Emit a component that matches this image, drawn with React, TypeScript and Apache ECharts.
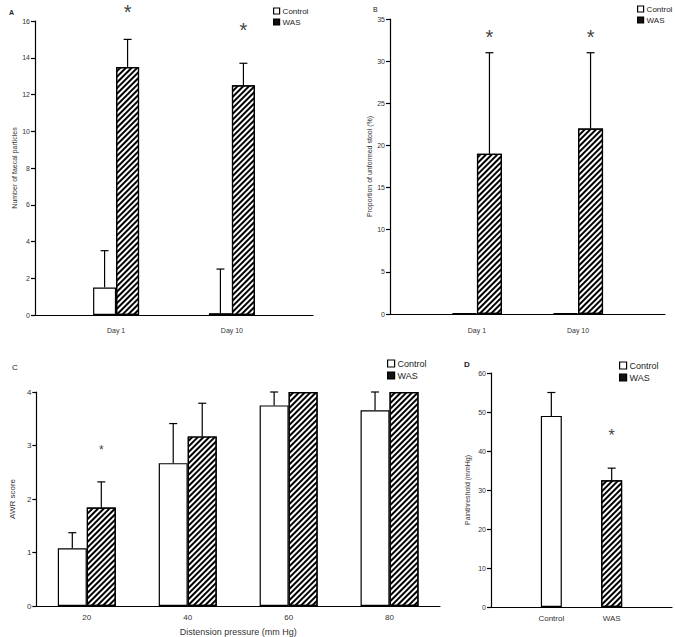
import React, { useEffect, useRef } from "react";
import * as echarts from "echarts";

const FONT = "Liberation Sans, Arial, sans-serif";

// Panel A: number of faecal particles
const dayLabels = ["Day 1", "Day 10"];
const aControl = [1.5, 0.1];
const aControlTop = [3.5, 2.5];
const aWAS = [13.5, 12.5];
const aWASTop = [15, 13.7];
const aStars = [16.5, 15.5];

// Panel B: proportion of unformed stool (%)
const bControl = [0.1, 0.1];
const bWAS = [19, 22];
const bWASTop = [31, 31];
const bStars = [32.9, 32.9];

// Panel C: AWR score
const cCats = ["20", "40", "60", "80"];
const cControl = [1.08, 2.67, 3.75, 3.66];
const cControlTop = [1.37, 3.41, 4.0, 4.0];
const cWAS = [1.84, 3.17, 4.0, 4.0];
const cWASTop = [2.32, 3.79, 4.0, 4.0];
const cStars = [2.92, null, null, null];

// Panel D: pain threshold (mmHg)
const dCats = ["Control", "WAS"];
const dValues = [49, 32.5];
const dTop = [55, 35.6];
const dStar = 44;

const hatch = {
  symbol: "rect",
  color: "#000",
  dashArrayX: [1, 0],
  dashArrayY: [1.7, 1.7],
  rotation: -Math.PI / 4,
  symbolSize: 1,
};

const controlStyle = { color: "#fff", borderColor: "#000", borderWidth: 1.2 };
const wasStyle = { color: "#fff", borderColor: "#000", borderWidth: 1.2, decal: hatch };

function errSeries(xi: number, data: any[], offset: number, cap: number) {
  return {
    type: "custom",
    xAxisIndex: xi,
    yAxisIndex: xi,
    silent: true,
    z: 4,
    data,
    renderItem: (params: any, api: any) => {
      const x = api.value(0);
      const y = api.value(1);
      const t = api.value(2);
      if (t === undefined || isNaN(t) || t <= y) return null;
      const p0 = api.coord([x, y]);
      const p1 = api.coord([x, t]);
      const cx = p0[0] + offset;
      const st = { stroke: "#000", lineWidth: 1.2 };
      return {
        type: "group",
        children: [
          { type: "line", shape: { x1: cx, y1: p0[1], x2: cx, y2: p1[1] }, style: st },
          { type: "line", shape: { x1: cx - cap, y1: p1[1], x2: cx + cap, y2: p1[1] }, style: st },
        ],
      };
    },
  };
}

function starSeries(xi: number, data: any[], offset: number, size: number) {
  return {
    type: "custom",
    xAxisIndex: xi,
    yAxisIndex: xi,
    silent: true,
    z: 5,
    data,
    renderItem: (params: any, api: any) => {
      const x = api.value(0);
      const y = api.value(1);
      if (y === undefined || isNaN(y)) return null;
      const p = api.coord([x, y]);
      return {
        type: "text",
        x: p[0] + offset,
        y: p[1],
        style: {
          text: "*",
          fontSize: size,
          fontFamily: FONT,
          fill: "#444",
          align: "center",
          verticalAlign: "middle",
        },
      };
    },
  };
}

function yAxis(gi: number, max: number, interval: number, name: string, nameGap: number, fs: number) {
  return {
    type: "value",
    gridIndex: gi,
    min: 0,
    max,
    interval,
    name,
    nameLocation: "middle",
    nameGap,
    nameTextStyle: { fontSize: fs, color: "#333", fontFamily: FONT },
    axisLine: { show: true, lineStyle: { color: "#000", width: 1.2 } },
    axisTick: { show: true, length: 4, lineStyle: { color: "#000", width: 1.2 } },
    axisLabel: { fontSize: fs, color: "#333", fontFamily: FONT, margin: 5 },
    splitLine: { show: false },
  };
}

function legend(left: number, top: number, fs: number, icon: number) {
  return {
    left,
    top,
    orient: "vertical",
    selectedMode: false,
    itemWidth: icon,
    itemHeight: icon,
    itemGap: 3,
    icon: "rect",
    textStyle: { fontSize: fs, color: "#222", fontFamily: FONT, padding: [0, 0, 0, -2] },
    data: [
      { name: "Control", itemStyle: { color: "#fff", borderColor: "#000", borderWidth: 1.2 } },
      { name: "WAS", itemStyle: { color: "#111", borderColor: "#000", borderWidth: 1.2, decal: "none" } },
    ],
  };
}

export default function App() {
  const ref = useRef<HTMLDivElement>(null);
  useEffect(() => {
    if (!ref.current) return;
    const chart = echarts.init(ref.current, undefined, { renderer: "svg" });
    const xs = [1, 2];
    const option: any = {
      animation: false,
      backgroundColor: "#fff",
      textStyle: { fontFamily: FONT },
      title: [
        { text: "A", left: 4, top: 4, textStyle: { fontSize: 7, fontWeight: "bold", color: "#222", fontFamily: FONT } },
        { text: "B", left: 368, top: 1, textStyle: { fontSize: 7, fontWeight: "normal", color: "#222", fontFamily: FONT } },
        { text: "C", left: 7, top: 358, textStyle: { fontSize: 8, fontWeight: "normal", color: "#222", fontFamily: FONT } },
        { text: "D", left: 459, top: 355, textStyle: { fontSize: 8, fontWeight: "bold", color: "#222", fontFamily: FONT } },
      ],
      legend: [legend(268, 2, 8, 6), legend(632, 0, 8, 6), legend(382, 354, 9, 7), legend(614, 356, 9, 7)],
      grid: [
        { left: 35, right: 362, top: 21, bottom: 322 },
        { left: 390, right: 10, top: 19, bottom: 323 },
        { left: 26, right: 235, top: 392, bottom: 31 },
        { left: 491, right: 2, top: 373, bottom: 30 },
      ],
      xAxis: [
        {
          type: "value", gridIndex: 0, min: 0.3, max: 2.7,
          axisLine: { show: true, onZero: false, lineStyle: { color: "#000", width: 1.2 } },
          axisTick: { show: false }, splitLine: { show: false },
          axisLabel: { customValues: xs, fontSize: 7, color: "#333", margin: 12, fontFamily: FONT, formatter: (v: number) => dayLabels[Math.round(v) - 1] ?? "" },
        },
        {
          type: "value", gridIndex: 1, min: 0.14, max: 2.86,
          axisLine: { show: true, onZero: false, lineStyle: { color: "#000", width: 1.2 } },
          axisTick: { show: false }, splitLine: { show: false },
          axisLabel: { customValues: xs, fontSize: 7, color: "#333", margin: 13, fontFamily: FONT, formatter: (v: number) => dayLabels[Math.round(v) - 1] ?? "" },
        },
        {
          type: "category", gridIndex: 2, data: cCats,
          name: "Distension pressure (mm Hg)", nameLocation: "middle", nameGap: 21,
          nameTextStyle: { fontSize: 9, color: "#333", fontFamily: FONT },
          axisLine: { show: true, lineStyle: { color: "#000", width: 1.2 } },
          axisTick: { show: false },
          axisLabel: { fontSize: 8, color: "#333", margin: 7, fontFamily: FONT },
        },
        {
          type: "value", gridIndex: 3, min: 0, max: 3, interval: 1,
          axisLine: { show: true, onZero: false, lineStyle: { color: "#000", width: 1.2 } },
          axisTick: { show: false }, splitLine: { show: false },
          axisLabel: { fontSize: 8, color: "#333", margin: 7, fontFamily: FONT, formatter: (v: number) => dCats[v - 1] ?? "" },
        },
      ],
      yAxis: [
        yAxis(0, 16, 2, "Number of faecal particles", 17, 7),
        yAxis(1, 35, 5, "Proportion of unformed stool (%)", 17, 7),
        yAxis(2, 4, 1, "AWR score", 15, 8),
        yAxis(3, 60, 10, "Painthreshold (mmHg)", 20, 7),
      ],
      series: [
        // A
        { type: "bar", name: "Control", xAxisIndex: 0, yAxisIndex: 0, barWidth: 23, barGap: "0%", itemStyle: controlStyle, data: xs.map((x, i) => [x, aControl[i]]) },
        { type: "bar", name: "WAS", xAxisIndex: 0, yAxisIndex: 0, barWidth: 23, barGap: "0%", itemStyle: wasStyle, data: xs.map((x, i) => [x, aWAS[i]]) },
        errSeries(0, xs.map((x, i) => [x, aControl[i], aControlTop[i]]), -11.5, 4),
        errSeries(0, xs.map((x, i) => [x, aWAS[i], aWASTop[i]]), 11.5, 4),
        starSeries(0, xs.map((x, i) => [x, aStars[i]]), 11.5, 20),
        // B
        { type: "bar", name: "Control", xAxisIndex: 1, yAxisIndex: 1, barWidth: 25, barGap: "0%", itemStyle: controlStyle, data: xs.map((x, i) => [x, bControl[i]]) },
        { type: "bar", name: "WAS", xAxisIndex: 1, yAxisIndex: 1, barWidth: 25, barGap: "0%", itemStyle: wasStyle, data: xs.map((x, i) => [x, bWAS[i]]) },
        errSeries(1, xs.map((x, i) => [x, bWAS[i], bWASTop[i]]), 12.5, 4),
        starSeries(1, xs.map((x, i) => [x, bStars[i]]), 12.5, 20),
        // C
        { type: "bar", name: "Control", xAxisIndex: 2, yAxisIndex: 2, barWidth: 29, barGap: "0%", itemStyle: controlStyle, data: cControl },
        { type: "bar", name: "WAS", xAxisIndex: 2, yAxisIndex: 2, barWidth: 29, barGap: "0%", itemStyle: wasStyle, data: cWAS },
        errSeries(2, cCats.map((c, i) => [i, cControl[i], cControlTop[i]]), -14.5, 4),
        errSeries(2, cCats.map((c, i) => [i, cWAS[i], cWASTop[i]]), 14.5, 4),
        starSeries(2, cCats.map((c, i) => [i, cStars[i] ?? NaN]), 14.5, 12),
        // D
        { type: "bar", name: "Control", xAxisIndex: 3, yAxisIndex: 3, barWidth: 21, barGap: "-100%", itemStyle: controlStyle, data: [[1, dValues[0]]] },
        { type: "bar", name: "WAS", xAxisIndex: 3, yAxisIndex: 3, barWidth: 21, barGap: "-100%", itemStyle: wasStyle, data: [[2, dValues[1]]] },
        errSeries(3, xs.map((x, i) => [x, dValues[i], dTop[i]]), 0, 4),
        starSeries(3, [[2, dStar]], 0, 16),
      ],
    };
    chart.setOption(option);
    return () => chart.dispose();
  }, []);
  return <div ref={ref} style={{ position: "absolute", left: 0, top: 0, width: 675, height: 637 }} />;
}
